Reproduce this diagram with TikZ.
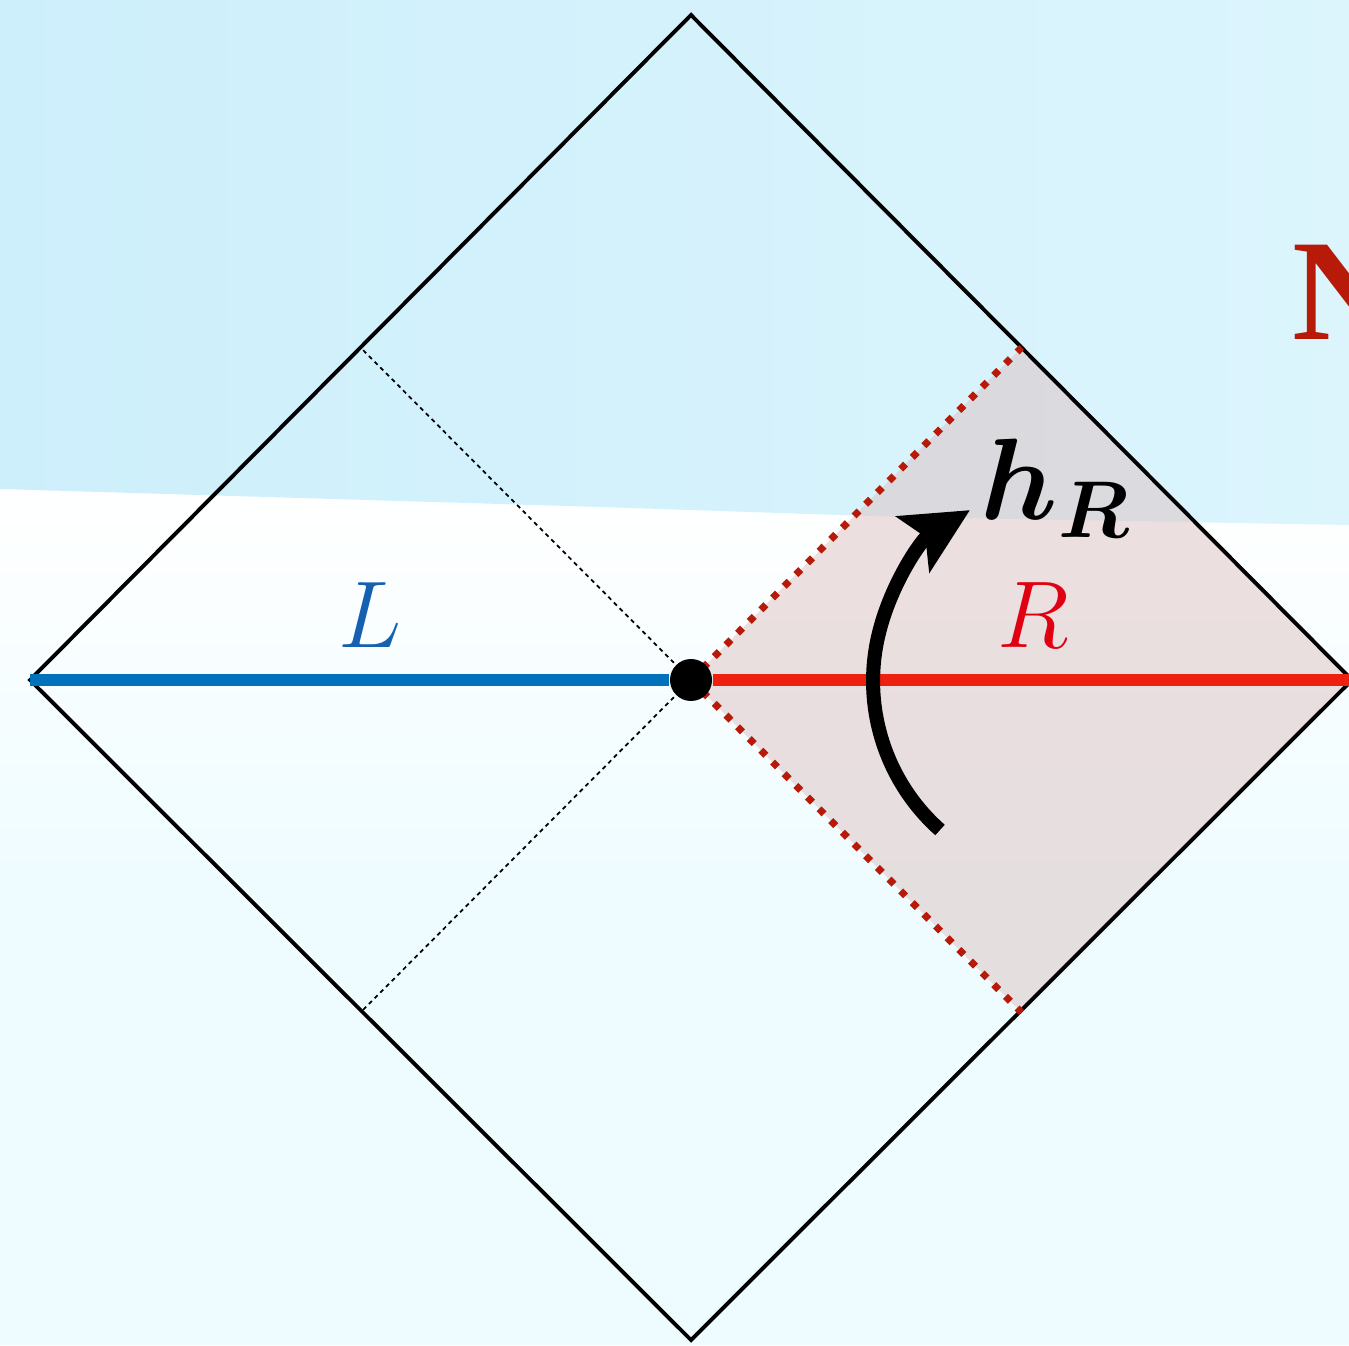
\documentclass[tikz,border=0pt]{standalone}
\usepackage{amsmath,amssymb,bm}
\usepackage{fontspec}
\newfontfamily\headfont{Liberation Serif}
\DeclareMathSizes{24.88}{24.88}{18.5}{12}
\usetikzlibrary{arrows.meta,positioning}
\definecolor{skyblue}{HTML}{CDEFFB}
\definecolor{paleblue}{HTML}{EEFCFF}
\definecolor{leftblue}{HTML}{0072BB}
\definecolor{labelblue}{HTML}{1560B0}
\definecolor{rightred}{HTML}{EE2010}
\definecolor{labelred}{HTML}{E00012}
\definecolor{dotred}{HTML}{B81A0A}
\definecolor{wedge}{RGB}{221,193,193}
\tikzset{
  edge/.style={line width=1.1pt,black},
  horizon/.style={line width=0.5pt,dash pattern=on 1.2pt off 1.1pt},
  rhorizon/.style={line width=2pt,dotred,dash pattern=on 2pt off 2.7pt},
  slice/.style={line width=3.4pt},
  biglabel/.style={font=\fontsize{24.88}{28}\selectfont}
}
\begin{document}
\begin{tikzpicture}[>=Stealth]
\useasboundingbox (0,0) rectangle (13.49,13.45);
% background
\fill[paleblue] (0,0) rectangle (13.49,13.45);
\shade[top color=white,bottom color=paleblue] (0,4.5) rectangle (13.49,8.56);
\shade[left color=skyblue,right color=skyblue!55!paleblue]
  (0,13.45) -- (13.49,13.45) -- (13.49,8.2) -- (9,8.28) -- (6,8.38) -- (0,8.56) -- cycle;
% corners of the diagram
\coordinate (top) at (6.91,13.30);
\coordinate (bot) at (6.91,0.05);
\coordinate (left) at (0.30,6.65);
\coordinate (right) at (13.52,6.65);
\coordinate (ul) at (3.605,9.975);
\coordinate (ll) at (3.605,3.325);
\coordinate (ur) at (10.215,9.975);
\coordinate (lr) at (10.215,3.325);
\coordinate (mid) at (6.91,6.65);
% right wedge
\fill[wedge,opacity=0.5] (mid) -- (ur) -- (right) -- (lr) -- cycle;
\draw[edge] (top) -- (right) -- (bot) -- (left) -- cycle;
\draw[horizon] (mid) -- (ul);
\draw[horizon] (mid) -- (ll);
\draw[rhorizon] (mid) -- (ur);
\draw[rhorizon] (mid) -- (lr);
\node[circle,fill=black,inner sep=0pt,minimum size=0.42cm] (c) at (mid) {};
\draw[slice,leftblue] (left) -- (c);
\draw[slice,rightred] (c) -- (right);
% boost
\coordinate (a0) at (9.40,5.15);
\draw[->,line width=4pt,>={Stealth[length=0.66cm,width=0.64cm,inset=0.14cm]}]
  (a0) arc[start angle=228.4,end angle=120.9,radius=1.992];
% labels
\node[labelblue,biglabel,scale=1.085] (L) at (3.70,7.30) {$L$};
\node[labelred,biglabel,scale=1.085] (R) at (10.33,7.30) {$R$};
\node[biglabel,scale=1.326,anchor=base west,inner sep=0pt] (h) at (9.80,8.25) {$\boldsymbol{h_R}$};
\node[dotred,font=\fontsize{41}{44}\headfont\bfseries,anchor=base west,inner sep=0pt] (N) at (12.92,10.05) {N};
\end{tikzpicture}
\end{document}
